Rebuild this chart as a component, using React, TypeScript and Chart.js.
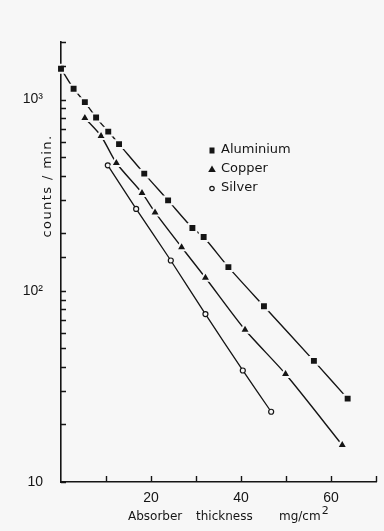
import React, { useEffect, useRef } from 'react';
import { Chart, registerables } from 'chart.js';

Chart.register(...registerables);

// ---- data ----
const aluminiumX = [0, 2.8, 5.3, 7.8, 10.5, 12.9, 18.5, 23.8, 29.2, 31.7, 37.2, 45.1, 56.2, 63.7];
const aluminiumY = [1450, 1140, 970, 805, 680, 585, 410, 297, 213, 191, 133, 83, 43, 27.3];

const copperX = [5.3, 8.9, 12.3, 18.0, 20.9, 26.8, 32.1, 40.9, 49.9, 62.5];
const copperY = [800, 645, 466, 325, 257, 169, 117, 62.5, 36.7, 15.6];

const silverX = [10.4, 16.7, 24.4, 32.1, 40.4, 46.7];
const silverY = [453, 268, 144, 75.5, 38.3, 23.3];

const seriesNames = ['Aluminium', 'Copper', 'Silver'];
const xLabelled = [20, 40, 60];
const yLabelText: Record<number, string> = { 10: '10', 100: '10²', 1000: '10³' };
const xTitleParts = ['Absorber', 'thickness', 'mg/cm'];
const yTitle = 'counts / min.';

const INK = '#151515';
const BG = '#f7f7f7';

function pts(xs: number[], ys: number[]) {
  return xs.map((x, i) => ({ x, y: ys[i] }));
}

export default function App() {
  const ref = useRef<HTMLCanvasElement>(null);

  useEffect(() => {
    const canvas = ref.current;
    if (!canvas) return;

    const bgPlugin = {
      id: 'bgPlugin',
      beforeDraw(chart: any) {
        const { ctx, width, height } = chart;
        ctx.save();
        ctx.fillStyle = BG;
        ctx.fillRect(0, 0, width, height);
        ctx.restore();
      },
    };

    const innerTicks = {
      id: 'innerTicks',
      afterDraw(chart: any) {
        const { ctx, chartArea } = chart;
        const xs = chart.scales.x;
        const ys = chart.scales.y;
        ctx.save();
        ctx.strokeStyle = INK;
        ctx.lineWidth = 1.4;
        ctx.beginPath();
        ys.ticks.forEach((t: any) => {
          const py = Math.round(ys.getPixelForValue(t.value)) + 0.5;
          ctx.moveTo(chartArea.left, py);
          ctx.lineTo(chartArea.left + 5, py);
        });
        xs.ticks.forEach((t: any) => {
          if (t.value === 0) return;
          const px = Math.round(xs.getPixelForValue(t.value)) + 0.5;
          ctx.moveTo(px, chartArea.bottom);
          ctx.lineTo(px, chartArea.bottom - 6);
        });
        ctx.stroke();

        // axis titles
        ctx.fillStyle = INK;
        ctx.font = '12px "DejaVu Sans"';
        ctx.textBaseline = 'alphabetic';
        ctx.textAlign = 'left';
        const base = chartArea.bottom + 38;
        ctx.fillText(xTitleParts[0], chartArea.left + 67, base);
        ctx.fillText(xTitleParts[1], chartArea.left + 135, base);
        ctx.fillText(xTitleParts[2], chartArea.left + 218, base);
        const w = ctx.measureText(xTitleParts[2]).width;
        ctx.font = '11px "DejaVu Sans"';
        ctx.fillText('2', chartArea.left + 218 + w + 1, base - 6);

        ctx.save();
        ctx.translate(chartArea.left - 13, chartArea.top + 144);
        ctx.rotate(-Math.PI / 2);
        ctx.font = '13px "DejaVu Sans"';
        (ctx as any).letterSpacing = '1.4px';
        ctx.textAlign = 'center';
        ctx.textBaseline = 'middle';
        ctx.fillText(yTitle, 0, 0);
        ctx.restore();

        // legend
        const lx = chartArea.left + 151;
        const rows = [chartArea.top + 108, chartArea.top + 127, chartArea.top + 146];
        ctx.font = '13px "DejaVu Sans"';
        ctx.textAlign = 'left';
        ctx.textBaseline = 'middle';
        rows.forEach((ry, i) => {
          ctx.fillStyle = INK;
          ctx.strokeStyle = INK;
          if (i === 0) {
            ctx.fillRect(lx - 2.5, ry - 2.5, 5, 6);
          } else if (i === 1) {
            ctx.beginPath();
            ctx.moveTo(lx, ry - 3.5);
            ctx.lineTo(lx + 3.8, ry + 3);
            ctx.lineTo(lx - 3.8, ry + 3);
            ctx.closePath();
            ctx.fill();
          } else {
            ctx.beginPath();
            ctx.lineWidth = 1.2;
            ctx.arc(lx, ry + 0.5, 2.2, 0, Math.PI * 2);
            ctx.stroke();
          }
          ctx.fillText(seriesNames[i], lx + 9, ry);
        });
        ctx.restore();
      },
    };

    const chart = new Chart(canvas, {
      type: 'line',
      data: {
        datasets: [
          {
            label: seriesNames[0],
            data: pts(aluminiumX, aluminiumY),
            borderColor: INK,
            borderWidth: 1.4,
            pointStyle: 'rect',
            pointRadius: 5.6,
            pointBackgroundColor: INK,
            pointBorderColor: BG,
            pointBorderWidth: 2,
            tension: 0.25,
            clip: 10,
          },
          {
            label: seriesNames[1],
            data: pts(copperX, copperY),
            borderColor: INK,
            borderWidth: 1.4,
            pointStyle: 'triangle',
            pointRadius: 6,
            pointBackgroundColor: INK,
            pointBorderColor: BG,
            pointBorderWidth: 2,
            tension: 0.25,
            clip: 10,
          },
          {
            label: seriesNames[2],
            data: pts(silverX, silverY),
            borderColor: INK,
            borderWidth: 1.3,
            pointStyle: 'circle',
            pointRadius: 2.5,
            pointBackgroundColor: BG,
            pointBorderColor: INK,
            pointBorderWidth: 1.2,
            tension: 0.25,
            clip: 10,
          },
        ],
      },
      options: {
        responsive: false,
        animation: false,
        events: [],
        layout: { padding: { top: 42, right: 3, left: 0, bottom: 0 } },
        plugins: {
          legend: { display: false },
          tooltip: { enabled: false },
          title: { display: false },
        },
        scales: {
          x: {
            type: 'linear',
            min: 0,
            max: 70,
            afterFit(scale: any) {
              scale.height = 49;
            },
            grid: { display: false },
            border: { display: true, color: INK, width: 1.6 },
            ticks: {
              stepSize: 10,
              autoSkip: false,
              maxRotation: 0,
              padding: 0,
              color: INK,
              font: { family: '"Liberation Sans"', size: 14 },
              callback: (v: any) => (xLabelled.includes(Number(v)) ? String(v) : ''),
            },
          },
          y: {
            type: 'logarithmic',
            min: 10,
            max: 2000,
            afterFit(scale: any) {
              scale.width = 61;
            },
            grid: { display: false },
            border: { display: true, color: INK, width: 1.6 },
            ticks: {
              autoSkip: false,
              padding: 10,
              color: INK,
              font: { family: '"Liberation Sans"', size: 14 },
              callback: (v: any) => yLabelText[Number(v)] ?? '',
            },
          },
        },
      },
      plugins: [bgPlugin, innerTicks],
    } as any);

    return () => chart.destroy();
  }, []);

  return (
    <div style={{ position: 'absolute', left: 0, top: 0, width: 384, height: 531, background: BG }}>
      <canvas ref={ref} width={384} height={531} style={{ display: 'block' }} />
    </div>
  );
}
